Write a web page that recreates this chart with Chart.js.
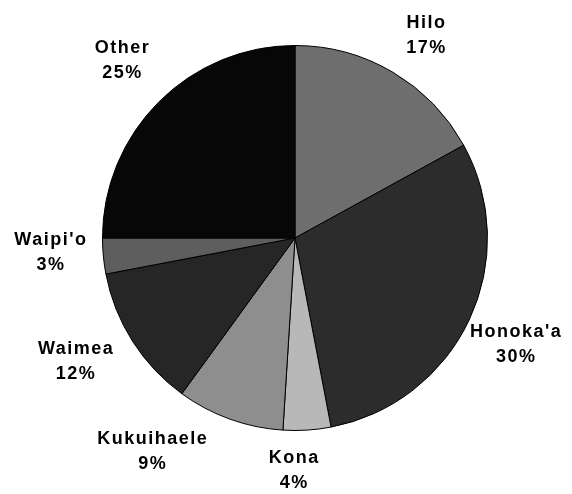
<!DOCTYPE html>
<html>
<head>
<meta charset="utf-8">
<script src="https://cdn.jsdelivr.net/npm/chart.js@4"></script>
<style>
  html, body { margin: 0; padding: 0; background: #ffffff; }
  #wrap { width: 572px; height: 494px; position: relative; }
</style>
</head>
<body>
<div id="wrap"><canvas id="c" width="572" height="494"></canvas></div>
<script>
// Data
const categories = ["Hilo", "Honoka'a", "Kona", "Kukuihaele", "Waimea", "Waipi'o", "Other"];
const shares = [17, 30, 4, 9, 12, 3, 25];
const percentLabels = ["17%", "30%", "4%", "9%", "12%", "3%", "25%"];

// Styles
const sliceColors = ["#6e6e6e", "#2c2c2c", "#b8b8b8", "#8e8e8e", "#262626", "#5e5e5e", "#070707"];
const labelAngleNudge = [2.4, 0.5, 3.8, 13.9, 2.9, 2.1, 0.8]; // degrees
const labelGap = [49, 53, 40, 64, 59, 52, 55];

const outsideLabels = {
  id: 'outsideLabels',
  afterDatasetsDraw(chart) {
    const ctx = chart.ctx;
    const meta = chart.getDatasetMeta(0);
    ctx.save();
    ctx.fillStyle = '#000';
    ctx.font = 'bold 18px "Liberation Sans", Arial, sans-serif';
    try { ctx.letterSpacing = '1.5px'; } catch (e) {}
    ctx.textAlign = 'center';
    ctx.textBaseline = 'middle';
    meta.data.forEach((arc, i) => {
      const p = arc.getProps(['x', 'y', 'startAngle', 'endAngle', 'outerRadius'], true);
      const mid = (p.startAngle + p.endAngle) / 2 + labelAngleNudge[i] * Math.PI / 180;
      const r = p.outerRadius + labelGap[i];
      const cx = p.x + Math.cos(mid) * r;
      const cy = p.y + Math.sin(mid) * r;
      ctx.fillText(categories[i], cx, cy - 12.5);
      ctx.fillText(percentLabels[i], cx, cy + 12.5);
    });
    ctx.restore();
  }
};

new Chart(document.getElementById('c'), {
  type: 'pie',
  data: {
    labels: categories,
    datasets: [{
      data: shares,
      backgroundColor: sliceColors,
      borderColor: '#000000',
      borderWidth: 1
    }]
  },
  options: {
    responsive: false,
    animation: false,
    layout: { padding: { left: 102, right: 84, top: 45, bottom: 63 } },
    plugins: {
      legend: { display: false },
      tooltip: { enabled: false }
    }
  },
  plugins: [outsideLabels]
});
</script>
</body>
</html>
